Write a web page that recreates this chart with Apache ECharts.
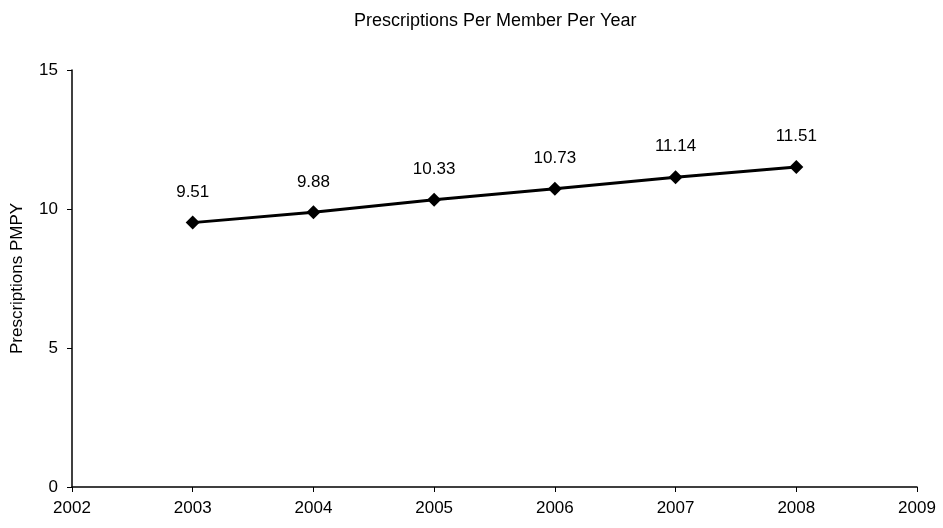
<!DOCTYPE html>
<html><head><meta charset="utf-8">
<script src="https://cdn.jsdelivr.net/npm/echarts@6/dist/echarts.min.js"></script>
<style>html,body{margin:0;padding:0;background:#fff}#c{width:943px;height:528px}</style>
</head><body><div id="c"></div>
<script>
const years = [2003, 2004, 2005, 2006, 2007, 2008];
const values = [9.51, 9.88, 10.33, 10.73, 11.14, 11.51];
const titleText = 'Prescriptions Per Member Per Year';
const yName = 'Prescriptions PMPY';

const chart = echarts.init(document.getElementById('c'));
const font = 'Liberation Sans, Arial, sans-serif';
chart.setOption({
  animation: false,
  backgroundColor: '#fff',
  title: { text: titleText, left: 349, top: 7, textStyle: { fontFamily: font, fontSize: 18, fontWeight: 'normal', color: '#000' } },
  grid: { left: 72, right: 26, top: 70, bottom: 41 },
  xAxis: {
    type: 'value', min: 2002, max: 2009, interval: 1,
    axisLine: { lineStyle: { color: '#000', width: 1.5 } },
    axisTick: { show: true, length: 5, lineStyle: { color: '#000' } },
    splitLine: { show: false },
    axisLabel: { color: '#000', fontFamily: font, fontSize: 17, margin: 13, formatter: v => String(v) }
  },
  yAxis: {
    type: 'value', min: 0, max: 15, interval: 5,
    name: yName, nameLocation: 'middle', nameGap: 46,
    nameTextStyle: { fontFamily: font, fontSize: 17, color: '#000' },
    axisLine: { show: true, lineStyle: { color: '#000', width: 1.5 } },
    axisTick: { show: true, length: 5, lineStyle: { color: '#000' } },
    splitLine: { show: false },
    axisLabel: { color: '#000', fontFamily: font, fontSize: 17, margin: 14 }
  },
  series: [{
    type: 'line',
    data: years.map((y, i) => [y, values[i]]),
    symbol: 'diamond', symbolSize: 14,
    lineStyle: { color: '#000', width: 3 },
    itemStyle: { color: '#000' },
    label: { show: true, position: 'top', distance: 15, color: '#000', fontFamily: font, fontSize: 17 }
  }]
});
</script></body></html>
